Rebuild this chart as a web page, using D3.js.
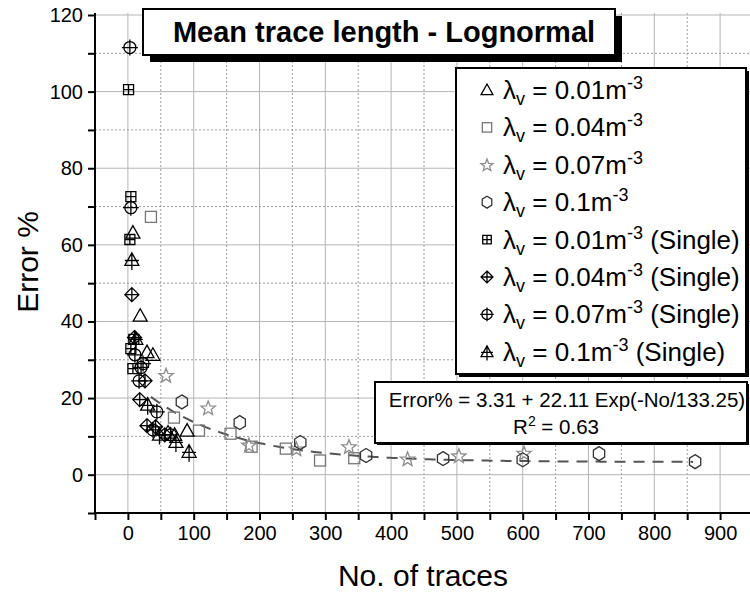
<!DOCTYPE html>
<html>
<head>
<meta charset="utf-8">
<script src="https://cdn.jsdelivr.net/npm/d3@7"></script>
<style>
	body { margin: 0; background: #fff; }
	svg text { font-family: "Liberation Sans", Arial, sans-serif; }
</style>
</head>
<body>
<div id="vizHolder"></div>
<script>
// data: [No. of traces, Error %]
var tri001 = [[7.6, 63.2], [18.7, 41.5], [29, 32], [38, 31.3], [90, 11.5], [61, 11], [71, 10.4]];
var sq004 = [[35, 67.3], [70, 14.9], [108, 11.5], [156, 10.7], [188, 7.3], [240, 6.8], [292, 3.7], [344, 4.3]];
var star007 = [[58, 26], [122, 17.5], [184, 7.8], [256, 6.8], [336, 7.4], [425, 4.2], [503, 5], [602, 5.7]];
var hex01 = [[82, 19], [170, 13.6], [262, 8.4], [362, 5], [479, 4.2], [600, 3.9], [716, 5.5], [862, 3.4]];
var sqS001 = [[1, 100.5], [4.5, 72.6], [3, 61.4], [4.5, 32.9], [7.6, 27.7], [9, 35.3]];
var diaS004 = [[6, 47], [10, 35.8], [26, 24.5], [18, 19.6], [29, 12.8], [42, 12.5], [56, 10.4]];
var cirS007 = [[3, 111.5], [4.5, 69.7], [10.6, 31.3], [23, 29], [20, 28], [17, 24.5], [44, 16.4], [38, 11.7], [65, 10.4]];
var triS01 = [[6, 56.1], [12, 35.5], [30, 18.3], [93, 6], [73, 8.6], [48, 10.5]];

var legendVals = ['0.01', '0.04', '0.07', '0.1', '0.01', '0.04', '0.07', '0.1'];
var legendSingle = [false, false, false, false, true, true, true, true];

// fitted curve as printed on the chart
var fitA = 3.31, fitB = 22.11, fitT = 133.25, fitFrom = 35, fitTo = 862;

var xTicks = d3.range(0, 901, 100);
var yTicks = d3.range(0, 121, 20);

var width = 750, height = 594;

var svg = d3.select('#vizHolder').append('svg')
	.attr('width', width)
	.attr('height', height);

var xScale = d3.scaleLinear().domain([-50, 950]).range([95, 753]);
var yScale = d3.scaleLinear().domain([-10, 120]).range([513, 15]);

// grid
var grid = svg.append('g');
d3.range(-50, 951, 50).forEach(function(v) {
	grid.append('line')
		.attr('x1', xScale(v)).attr('x2', xScale(v))
		.attr('y1', yScale(120) - 2).attr('y2', yScale(-10))
		.attr('stroke', v % 100 === 0 ? '#b4b4b4' : '#9a9a9a')
		.attr('stroke-width', 1)
		.attr('stroke-dasharray', v % 100 === 0 ? null : '2,2');
});
d3.range(-10, 121, 10).forEach(function(v) {
	grid.append('line')
		.attr('x1', xScale(-50)).attr('x2', width)
		.attr('y1', yScale(v)).attr('y2', yScale(v))
		.attr('stroke', v % 20 === 0 ? '#b4b4b4' : '#9a9a9a')
		.attr('stroke-width', 1)
		.attr('stroke-dasharray', v % 20 === 0 ? null : '2,2');
});

// axes
var yAxis = svg.append('g')
	.attr('transform', 'translate(' + xScale(-50) + ',0)')
	.call(d3.axisLeft(yScale).tickValues(d3.range(-10, 121, 10)).tickSize(7).tickFormat(function(d) {
		return yTicks.indexOf(d) >= 0 ? d : '';
	}));
yAxis.select('.domain').attr('stroke-width', 2).attr('d', 'M0,' + (yScale(120) - 2) + 'V' + yScale(-10));
yAxis.selectAll('.tick line').attr('stroke-width', 2);
yAxis.selectAll('.tick text').attr('font-size', 20).attr('font-family', 'Liberation Sans, Arial').attr('x', -12).attr('fill', '#000');

var xAxis = svg.append('g')
	.attr('transform', 'translate(0,' + yScale(-10) + ')')
	.call(d3.axisBottom(xScale).tickValues(d3.range(-50, 951, 50)).tickSize(7).tickFormat(function(d) {
		return xTicks.indexOf(d) >= 0 ? d : '';
	}));
xAxis.select('.domain').attr('stroke-width', 2).attr('d', 'M' + xScale(-50) + ',0H' + width);
xAxis.selectAll('.tick line').attr('stroke-width', 2);
xAxis.selectAll('.tick text').attr('font-size', 20).attr('font-family', 'Liberation Sans, Arial').attr('y', 13).attr('fill', '#000');

svg.append('text')
	.attr('x', 423).attr('y', 586)
	.attr('text-anchor', 'middle')
	.attr('font-size', 30)
	.text('No. of traces');

svg.append('text')
	.attr('transform', 'translate(38,262) rotate(-90)')
	.attr('text-anchor', 'middle')
	.attr('font-size', 30)
	.text('Error %');

// fit line
var fitData = d3.range(fitFrom, fitTo + 1, 4).map(function(n) { return [n, fitA + fitB * Math.exp(-n / fitT)]; });
svg.append('path')
	.datum(fitData)
	.attr('fill', 'none')
	.attr('stroke', '#555')
	.attr('stroke-width', 2)
	.attr('stroke-dasharray', '11,8')
	.attr('d', d3.line().x(function(d) { return xScale(d[0]); }).y(function(d) { return yScale(d[1]); }));

// symbol drawers
function drawSymbol(g, kind, k) {
	k = k || 1;
	var sw = 1.3;
	if (kind === 'tri') {
		g.append('path').attr('d', 'M0,' + (-7 * k) + 'L' + (7 * k) + ',' + (5.5 * k) + 'L' + (-7 * k) + ',' + (5.5 * k) + 'Z')
			.attr('fill', 'none').attr('stroke', '#000').attr('stroke-width', sw);
	} else if (kind === 'sq') {
		g.append('rect').attr('x', -5.5 * k).attr('y', -5.5 * k).attr('width', 11 * k).attr('height', 11 * k)
			.attr('fill', 'none').attr('stroke', '#777').attr('stroke-width', sw);
	} else if (kind === 'star') {
		var pts = d3.range(10).map(function(i) {
			var a = -Math.PI / 2 + i * Math.PI / 5, r = (i % 2 ? 3.2 : 7.5) * k;
			return [r * Math.cos(a), r * Math.sin(a) + 0.8 * k];
		});
		g.append('path').attr('d', 'M' + pts.join('L') + 'Z')
			.attr('fill', 'none').attr('stroke', '#8c8c8c').attr('stroke-width', sw);
	} else if (kind === 'hex') {
		var hp = d3.range(6).map(function(i) {
			var a = -Math.PI / 2 + i * Math.PI / 3;
			return [6.5 * k * Math.cos(a), 7 * k * Math.sin(a)];
		});
		g.append('path').attr('d', 'M' + hp.join('L') + 'Z')
			.attr('fill', 'none').attr('stroke', '#333').attr('stroke-width', sw);
	} else if (kind === 'sqS') {
		var s = 5 * k;
		g.append('path').attr('d', 'M' + (-s) + ',' + (-s) + 'H' + s + 'V' + s + 'H' + (-s) + 'Z' +
			'M0,' + (-s) + 'V' + s + 'M' + (-s) + ',0H' + s)
			.attr('fill', 'none').attr('stroke', '#000').attr('stroke-width', sw);
	} else if (kind === 'diaS') {
		var d = 7 * k;
		g.append('path').attr('d', 'M0,' + (-d) + 'L' + d + ',0L0,' + d + 'L' + (-d) + ',0Z' +
			'M0,' + (-d) + 'V' + d + 'M' + (-d) + ',0H' + d)
			.attr('fill', 'none').attr('stroke', '#000').attr('stroke-width', sw);
	} else if (kind === 'cirS') {
		var r = 6 * k;
		g.append('circle').attr('r', r).attr('fill', 'none').attr('stroke', '#000').attr('stroke-width', sw);
		g.append('path').attr('d', 'M0,' + (-r - 2 * k) + 'V' + (r + 2 * k) + 'M' + (-r - 2 * k) + ',0H' + (r + 2 * k))
			.attr('fill', 'none').attr('stroke', '#000').attr('stroke-width', sw);
	} else if (kind === 'triS') {
		var t = 7 * k;
		g.append('path').attr('d', 'M0,' + (-t) + 'L' + t + ',' + (0.8 * t) + 'L' + (-t) + ',' + (0.8 * t) + 'Z' +
			'M0,' + (-t) + 'V' + (1.45 * t) + 'M' + (-t) + ',' + (0.1 * t) + 'H' + t)
			.attr('fill', 'none').attr('stroke', '#000').attr('stroke-width', sw);
	}
}

var seriesList = [
	{ data: sq004, kind: 'sq' },
	{ data: star007, kind: 'star' },
	{ data: hex01, kind: 'hex' },
	{ data: tri001, kind: 'tri' },
	{ data: sqS001, kind: 'sqS' },
	{ data: diaS004, kind: 'diaS' },
	{ data: cirS007, kind: 'cirS' },
	{ data: triS01, kind: 'triS' }
];

var marks = svg.append('g');
seriesList.forEach(function(s) {
	marks.selectAll(null)
		.data(s.data)
		.enter()
		.append('g')
		.attr('transform', function(d) { return 'translate(' + xScale(d[0]) + ',' + yScale(d[1]) + ')'; })
		.each(function() { drawSymbol(d3.select(this), s.kind); });
});

// title box
svg.append('rect').attr('x', 150).attr('y', 16).attr('width', 472).attr('height', 46).attr('fill', '#000');
svg.append('rect').attr('x', 143).attr('y', 9).attr('width', 472).attr('height', 46)
	.attr('fill', '#fff').attr('stroke', '#000').attr('stroke-width', 2);
svg.append('text')
	.attr('x', 384).attr('y', 42)
	.attr('text-anchor', 'middle')
	.attr('font-size', 29)
	.attr('font-weight', 'bold')
	.text('Mean trace length - Lognormal');

// legend
var legendKinds = ['tri', 'sq', 'star', 'hex', 'sqS', 'diaS', 'cirS', 'triS'];
svg.append('rect').attr('x', 459).attr('y', 71).attr('width', 290).attr('height', 306).attr('fill', '#000');
svg.append('rect').attr('x', 456).attr('y', 68).attr('width', 290).attr('height', 306)
	.attr('fill', '#fff').attr('stroke', '#000').attr('stroke-width', 2);
var legend = svg.append('g');
legendVals.forEach(function(v, i) {
	var y = 90 + i * 37.4;
	var g = legend.append('g').attr('transform', 'translate(487,' + y + ')');
	drawSymbol(g, legendKinds[i], 0.85);
	var t = legend.append('text').attr('x', 503).attr('y', y + 9).attr('font-size', 26);
	t.append('tspan').text('λ');
	t.append('tspan').attr('font-size', 18).attr('dy', 6).text('v');
	t.append('tspan').attr('dy', -6).text(' = ' + v + 'm');
	t.append('tspan').attr('font-size', 18).attr('dy', -10).text('-3');
	t.append('tspan').attr('dy', 10).text(legendSingle[i] ? ' (Single)' : '');
});

// equation box
svg.append('rect').attr('x', 377).attr('y', 384).attr('width', 372).attr('height', 61).attr('fill', '#000');
svg.append('rect').attr('x', 375).attr('y', 382).attr('width', 372).attr('height', 61)
	.attr('fill', '#fff').attr('stroke', '#000').attr('stroke-width', 2);
svg.append('text')
	.attr('x', 567).attr('y', 407)
	.attr('text-anchor', 'middle')
	.attr('font-size', 20.5)
	.text('Error% = ' + fitA + ' + ' + fitB + ' Exp(-No/' + fitT + ')');
var r2 = svg.append('text')
	.attr('x', 556).attr('y', 434)
	.attr('text-anchor', 'middle')
	.attr('font-size', 20.5);
r2.append('tspan').text('R');
r2.append('tspan').attr('font-size', 14).attr('dy', -8).text('2');
r2.append('tspan').attr('dy', 8).text(' = 0.63');
</script>
</body>
</html>
